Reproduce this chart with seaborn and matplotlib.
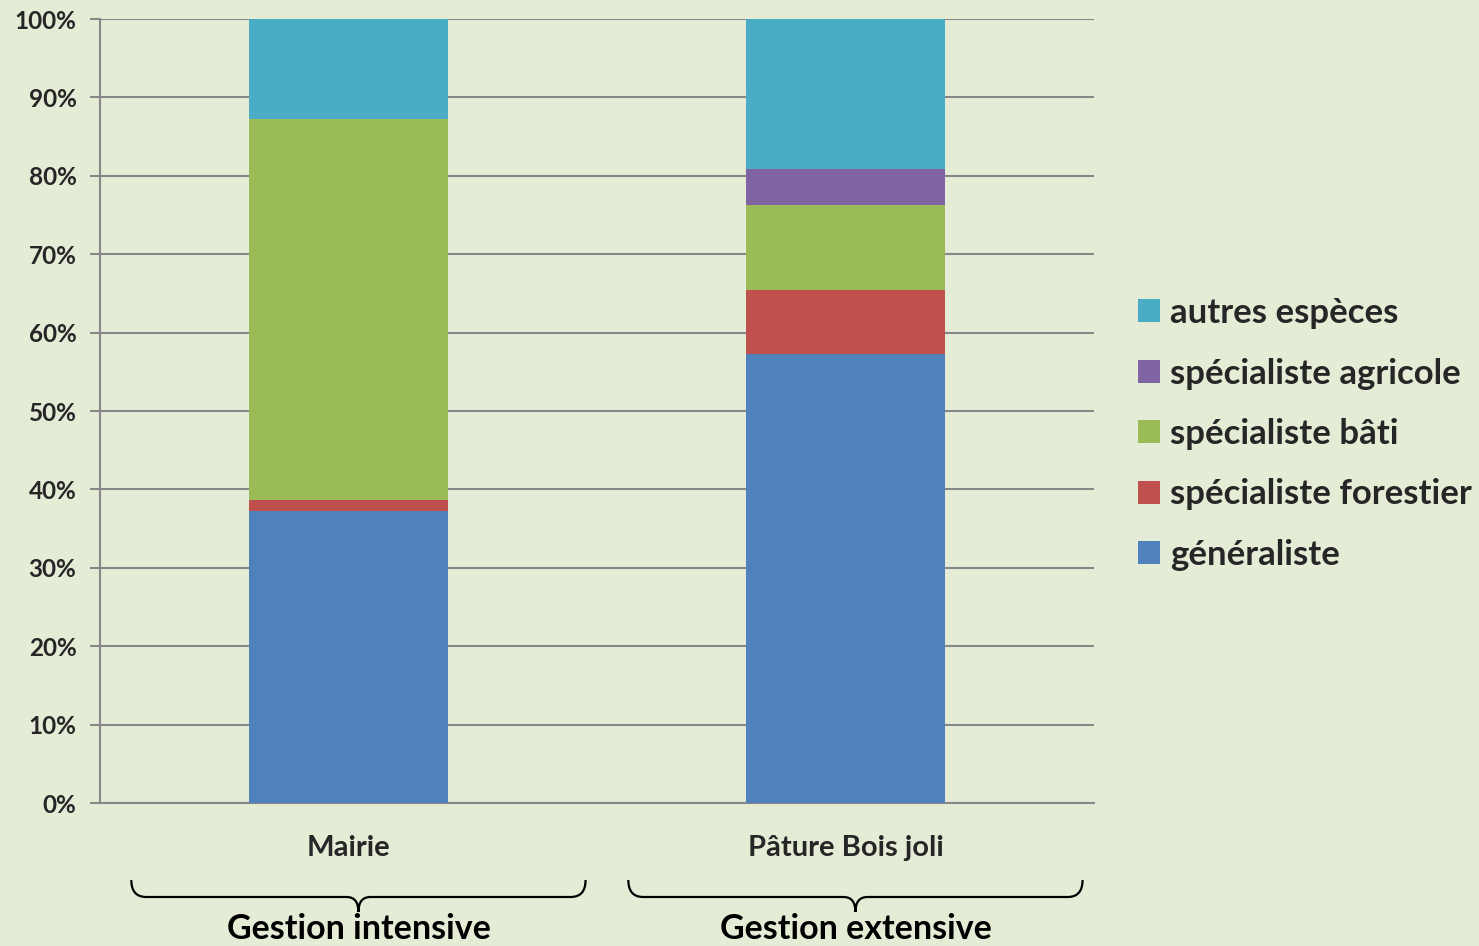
import numpy as np
import pandas as pd
import matplotlib
matplotlib.use("Agg")
import matplotlib.pyplot as plt
from matplotlib.patches import Patch, PathPatch
from matplotlib.path import Path
from matplotlib.transforms import blended_transform_factory
import seaborn as sns

# ---- data ----
sites = ["Mairie", "Pâture Bois joli"]
groups = ["Gestion intensive", "Gestion extensive"]
series = ["généraliste", "spécialiste forestier", "spécialiste bâti",
          "spécialiste agricole", "autres espèces"]
generaliste = [37.2, 57.3]
forestier = [1.5, 8.1]
bati = [48.6, 10.9]
agricole = [0.0, 4.6]
autres = [12.7, 19.1]
yticks = [0, 10, 20, 30, 40, 50, 60, 70, 80, 90, 100]
colors = {"généraliste": "#4F81BD", "spécialiste forestier": "#C0504D",
          "spécialiste bâti": "#9BBB59", "spécialiste agricole": "#8064A2",
          "autres espèces": "#4BACC6"}

values = {"généraliste": generaliste, "spécialiste forestier": forestier,
          "spécialiste bâti": bati, "spécialiste agricole": agricole,
          "autres espèces": autres}

sns.set_theme(style="white")
plt.rcParams['font.family'] = ['Lato', 'DejaVu Sans']
plt.rcParams['font.weight'] = 'bold'

BG = "#E5ECD6"
GRID = "#878787"
W, H = 1479, 946
fig = plt.figure(figsize=(W / 100, H / 100), dpi=100, facecolor=BG)
ax = fig.add_axes([100 / W, (H - 803) / H, 994 / W, 784 / H])
ax.set_facecolor(BG)

# cumulative tops, draw from top series to bottom (overpaint)
cum = np.cumsum(np.array([values[s] for s in series]), axis=0)
for i in range(len(series) - 1, -1, -1):
    df = pd.DataFrame({"site": sites, "top": cum[i]})
    sns.barplot(data=df, x="site", y="top", order=sites, color=colors[series[i]],
                saturation=1, width=0.4, linewidth=0, ax=ax, zorder=3)

ax.set_xlim(-0.5, 1.5)
ax.set_ylim(0, 100)
ax.set_yticks(yticks)
ax.set_yticklabels([f"{v}%" for v in yticks], fontsize=17.5, fontweight="bold")
ax.yaxis.grid(True, color=GRID, linewidth=1.5, zorder=0)
ax.set_axisbelow(True)
ax.set_xlabel("")
ax.set_ylabel("")
ax.set_xticks([0, 1])
ax.set_xticklabels(sites, fontsize=21, fontweight="bold")
ax.set_xticks([-0.5, 0.5, 1.5], minor=True)
ax.tick_params(axis="x", which="major", length=0, pad=23)
ax.tick_params(axis="x", which="minor", length=7, width=1.2, color=GRID, direction="out")
ax.tick_params(axis="y", length=7, width=1.5, color=GRID, direction="out", pad=10, left=True)
for side in ["top", "right"]:
    ax.spines[side].set_visible(False)
for side in ["left", "bottom"]:
    ax.spines[side].set_color(GRID)
    ax.spines[side].set_linewidth(1.5)

# braces and group labels
tr = blended_transform_factory(ax.transData, fig.transFigure)
def fy(py):
    return 1 - py / H
for k, g in enumerate(groups):
    c = k + 0.02
    hw = 0.457
    x0, x1 = c - hw, c + hw
    e = 0.03
    yt, yb, ytip = fy(880), fy(897), fy(912)
    verts = [(x0, yt), (x0, yb), (x0 + e, yb),
             (c - e * 0.8, yb),
             (c, yb), (c, ytip),
             (c, yb), (c + e * 0.8, yb),
             (x1 - e, yb),
             (x1, yb), (x1, yt)]
    codes = [Path.MOVETO, Path.CURVE3, Path.CURVE3,
             Path.LINETO,
             Path.CURVE3, Path.CURVE3,
             Path.CURVE3, Path.CURVE3,
             Path.LINETO,
             Path.CURVE3, Path.CURVE3]
    fig.patches.append(PathPatch(Path(verts, codes), transform=tr, fill=False,
                                 edgecolor="black", linewidth=1.6, clip_on=False))
    fig.text(c, fy(913), g, transform=tr, ha="center", va="top",
             fontsize=24.5, fontweight="bold", color="black")

# legend
handles = [Patch(facecolor=colors[s], edgecolor="none") for s in series[::-1]]
fig.legend(handles, series[::-1], loc="center left",
           bbox_to_anchor=(1124 / W, 1 - 434 / H), frameon=False,
           prop={"size": 25, "weight": "bold"}, handlelength=0.63, handleheight=0.63,
           handletextpad=0.29, labelspacing=0.82, borderaxespad=0)

fig.savefig("out.png", dpi=100, facecolor=BG)
